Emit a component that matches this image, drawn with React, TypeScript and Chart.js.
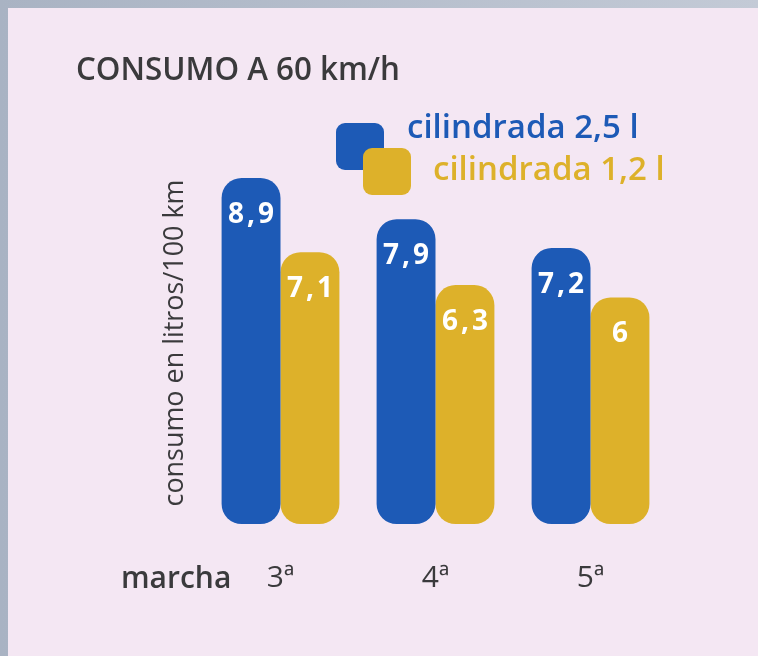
import React, { useEffect, useRef } from "react";
import { Chart, registerables } from "chart.js";

Chart.register(...registerables);

const chartTitle = "CONSUMO A 60 km/h";
const yAxisTitle = "consumo en litros/100 km";
const xAxisLead = "marcha";
const categories = ["3ª", "4ª", "5ª"];
const seriesLabels = ["cilindrada 2,5 l", "cilindrada 1,2 l"];
const consumo25 = [8.9, 7.9, 7.2];
const consumo12 = [7.1, 6.3, 6];

const BLUE = "#1d5ab6";
const YELLOW = "#ddb12a";
const TEXT = "#3a3a3c";
const FONT = "'Open Sans', 'DejaVu Sans', sans-serif";

const decorPlugin = {
  id: "decor",
  beforeDraw(chart: any) {
    const { ctx, width, height } = chart;
    ctx.save();
    const g = ctx.createLinearGradient(0, 0, width, 0);
    g.addColorStop(0, "#a9b3c3");
    g.addColorStop(1, "#c3cad6");
    ctx.fillStyle = g;
    ctx.fillRect(0, 0, width, height);
    ctx.fillStyle = "#f4e7f3";
    ctx.fillRect(8, 8, width - 8, height - 8);
    ctx.restore();
  },
  afterDraw(chart: any) {
    const { ctx } = chart;
    ctx.save();
    // title
    ctx.fillStyle = TEXT;
    ctx.font = `600 32px ${FONT}`;
    ctx.textAlign = "left";
    ctx.textBaseline = "alphabetic";
    ctx.fillText(chartTitle, 76, 80, 324);
    // legend
    const ds = chart.data.datasets;
    const boxes = [
      { x: 336, y: 123 },
      { x: 363, y: 148 },
    ];
    const texts = [
      { x: 407, y: 138 },
      { x: 433, y: 180 },
    ];
    ds.forEach((d: any, i: number) => {
      ctx.fillStyle = d.backgroundColor;
      ctx.beginPath();
      (ctx as any).roundRect(boxes[i].x, boxes[i].y, 48, 47, 9);
      ctx.fill();
    });
    ds.forEach((d: any, i: number) => {
      ctx.fillStyle = d.backgroundColor;
      ctx.font = `600 33px ${FONT}`;
      ctx.fillText(d.label, texts[i].x, texts[i].y, 236);
    });
    // y axis title
    ctx.fillStyle = TEXT;
    ctx.font = `500 27px ${FONT}`;
    ctx.save();
    ctx.translate(183, 343);
    ctx.rotate(-Math.PI / 2);
    ctx.textAlign = "center";
    ctx.fillText(yAxisTitle, 0, 0, 327);
    ctx.restore();
    // "marcha"
    ctx.font = `600 30px ${FONT}`;
    ctx.textAlign = "left";
    ctx.fillText(xAxisLead, 121, 588, 112);
    ctx.restore();
  },
  afterDatasetsDraw(chart: any) {
    const { ctx } = chart;
    ctx.save();
    ctx.fillStyle = "#ffffff";
    ctx.font = `700 28px ${FONT}`;
    (ctx as any).letterSpacing = "3px";
    ctx.textAlign = "center";
    ctx.textBaseline = "alphabetic";
    chart.data.datasets.forEach((d: any, di: number) => {
      const meta = chart.getDatasetMeta(di);
      meta.data.forEach((bar: any, i: number) => {
        const txt = String(d.data[i]).replace(".", ",");
        ctx.fillText(txt, bar.x + 1.5, bar.y + 45);
      });
    });
    ctx.restore();
  },
};

export default function App() {
  const ref = useRef<HTMLCanvasElement | null>(null);
  useEffect(() => {
    if (!ref.current) return;
    const chart = new Chart(ref.current, {
      type: "bar",
      data: {
        labels: categories,
        datasets: [
          {
            label: seriesLabels[0],
            data: consumo25,
            backgroundColor: BLUE,
            borderRadius: 20,
            borderSkipped: false,
            base: 0.5,
          } as any,
          {
            label: seriesLabels[1],
            data: consumo12,
            backgroundColor: YELLOW,
            borderRadius: 20,
            borderSkipped: false,
            base: 0.5,
          } as any,
        ],
      },
      options: {
        animation: false,
        responsive: false,
        events: [],
        layout: { padding: { left: 203, right: 90, top: 132.7, bottom: 58 } },
        datasets: { bar: { categoryPercentage: 0.76, barPercentage: 1 } },
        plugins: {
          legend: { display: false },
          title: { display: false },
          tooltip: { enabled: false },
        },
        scales: {
          x: {
            grid: { display: false },
            border: { display: false },
            ticks: {
              color: TEXT,
              font: { family: FONT, size: 30, weight: 500 },
              padding: 28,
            },
            afterFit(scale: any) {
              scale.height = 74;
            },
          },
          y: { display: false, min: 0.5, max: 10 },
        },
      },
      plugins: [decorPlugin],
    });
    return () => chart.destroy();
  }, []);
  return (
    <div style={{ position: "fixed", left: 0, top: 0, width: 758, height: 656 }}>
      <canvas ref={ref} width={758} height={656} />
    </div>
  );
}
